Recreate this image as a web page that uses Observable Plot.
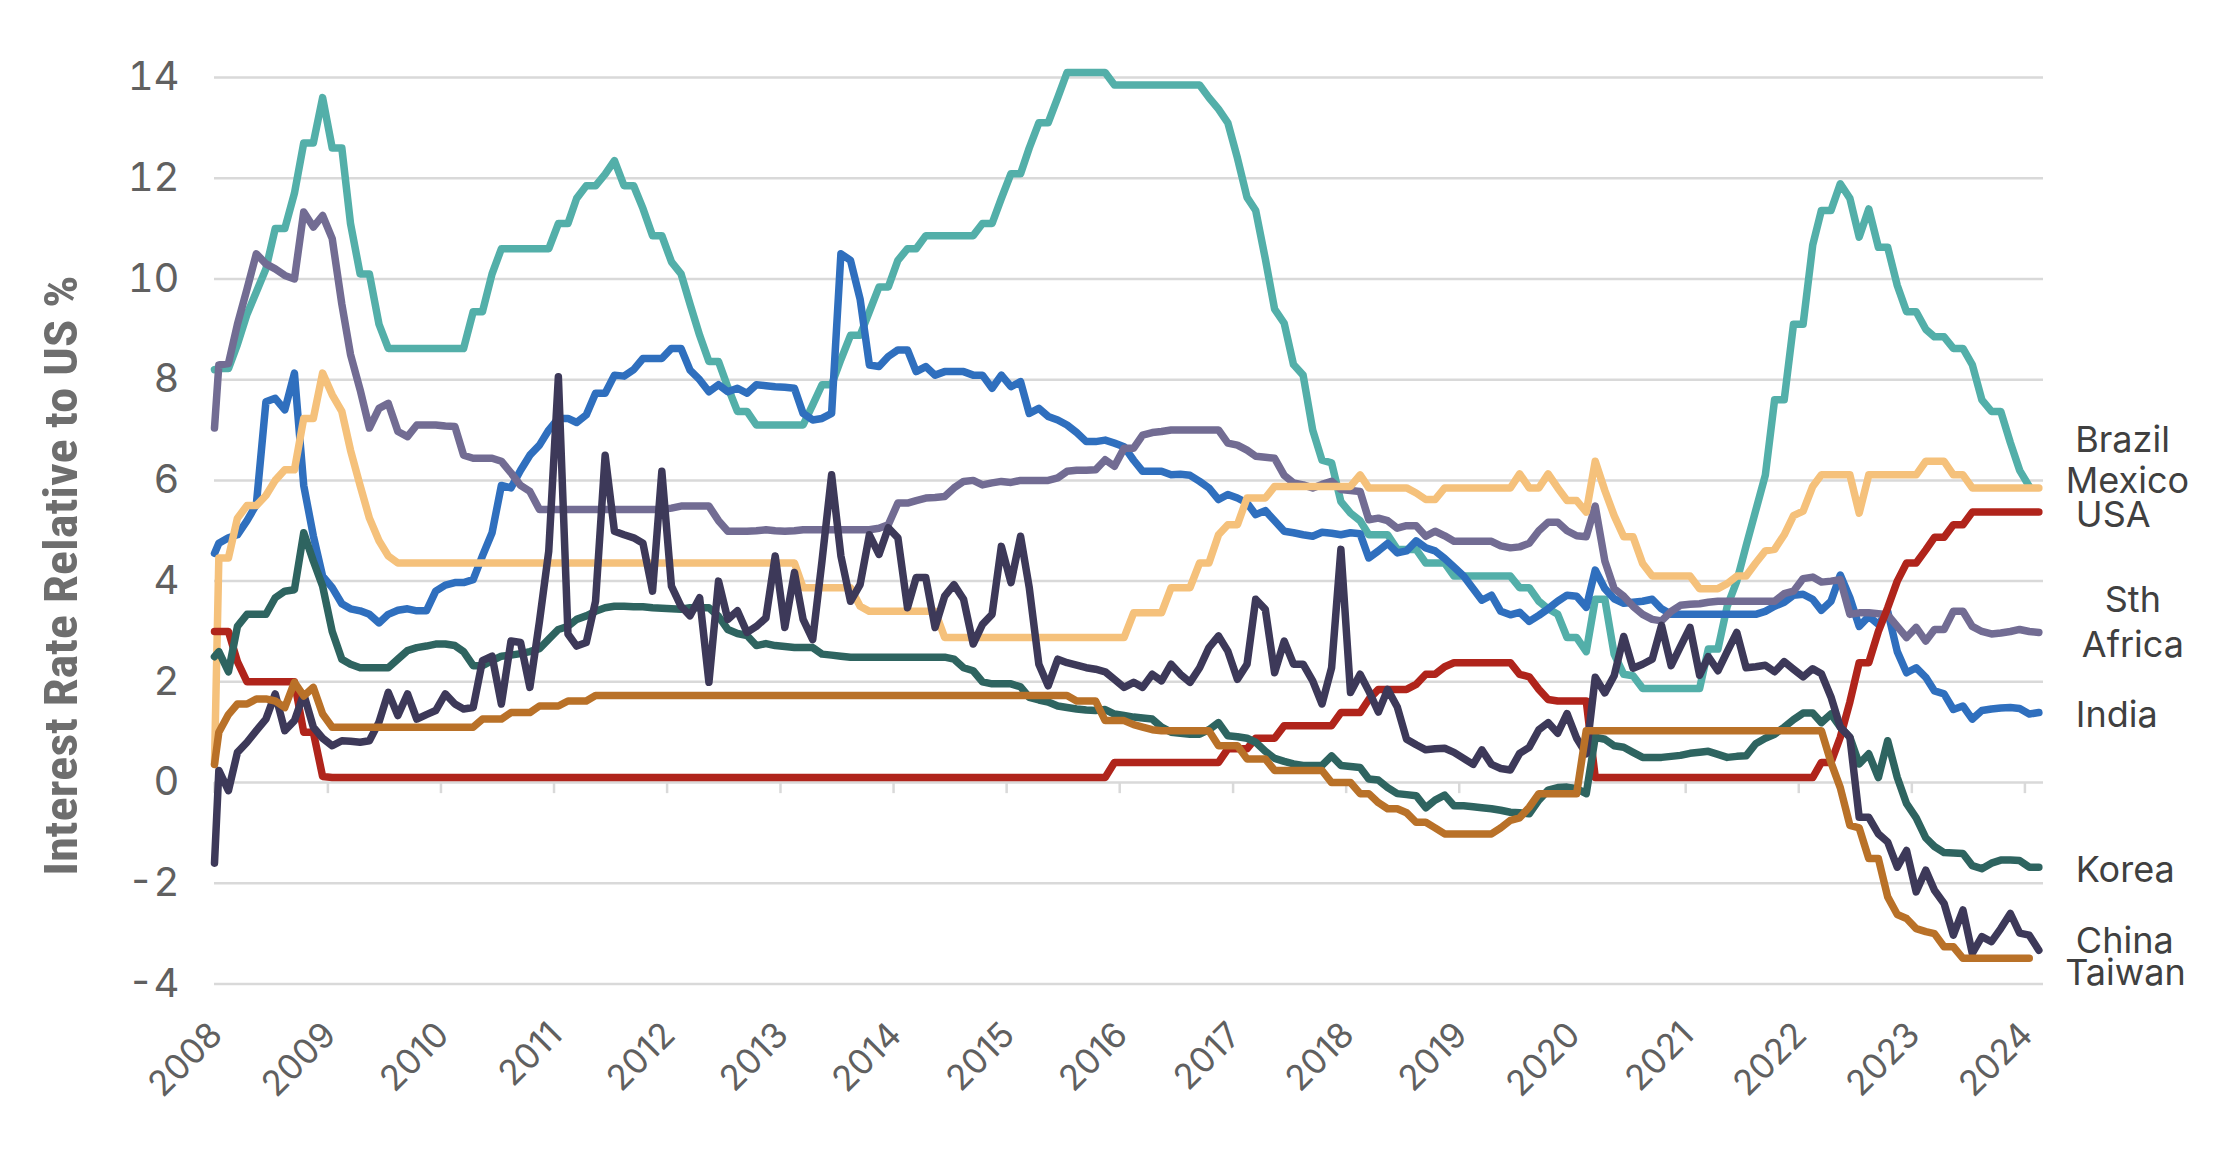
<!DOCTYPE html>
<html>
<head>
<meta charset="utf-8">
<script src="https://cdn.jsdelivr.net/npm/d3@7"></script>
<script src="https://cdn.jsdelivr.net/npm/@observablehq/plot@0.6"></script>
<style>
  html, body { margin: 0; padding: 0; background: #ffffff; }
  #chart { width: 2240px; height: 1152px; }
</style>
</head>
<body>
<div id="chart"></div>
<script>
// ---------------- DATA ----------------
// Series (drawing order) and colours
const seriesNames  = ["Brazil", "India", "Sth Africa", "Mexico", "USA", "Korea", "China", "Taiwan"];
const seriesColors = ["#53AFA9", "#2F6FBE", "#726C93", "#F5C17B", "#B0241B", "#2E6460", "#3D3959", "#B97128"];

// First observation (start of Jan 2008), then monthly mid-month values from Jan 2008
const firstObs = [8.2, 4.55, 7.04, 0.37, 3.0, 2.5, -1.6, 0.36];

const brazil = [
  8.22, 8.22, 8.7, 9.3, 9.74, 10.2, 11.0, 11.0, 11.7, 12.7, 12.7, 13.6,
  12.6, 12.6, 11.1, 10.1, 10.1, 9.1, 8.62, 8.62, 8.62, 8.62, 8.62, 8.62,
  8.62, 8.62, 8.62, 9.35, 9.35, 10.1, 10.6, 10.6, 10.6, 10.6, 10.6, 10.6,
  11.1, 11.1, 11.6, 11.85, 11.85, 12.08, 12.35, 11.85, 11.85, 11.4, 10.86, 10.86,
  10.34, 10.1, 9.5, 8.88, 8.36, 8.36, 7.85, 7.37, 7.37, 7.1, 7.1, 7.1,
  7.1, 7.1, 7.1, 7.5, 7.9, 7.9, 8.4, 8.88, 8.88, 9.35, 9.84, 9.84,
  10.37, 10.6, 10.6, 10.86, 10.86, 10.86, 10.86, 10.86, 10.86, 11.1, 11.1, 11.6,
  12.09, 12.09, 12.6, 13.1, 13.1, 13.6, 14.1, 14.1, 14.1, 14.1, 14.1, 13.85,
  13.85, 13.85, 13.85, 13.85, 13.85, 13.85, 13.85, 13.85, 13.85, 13.6, 13.37, 13.1,
  12.4, 11.62, 11.36, 10.4, 9.4, 9.12, 8.3, 8.09, 7.0, 6.4, 6.35, 5.58,
  5.35, 5.2, 4.92, 4.92, 4.92, 4.63, 4.63, 4.63, 4.36, 4.36, 4.36, 4.1,
  4.1, 4.1, 4.1, 4.1, 4.1, 4.1, 3.87, 3.87, 3.6, 3.45, 3.34, 2.88,
  2.88, 2.6, 3.64, 3.64, 2.55, 2.15, 2.12, 1.87, 1.87, 1.87, 1.87, 1.87,
  1.87, 1.87, 2.65, 2.65, 3.5, 4.0, 4.7, 5.4, 6.1, 7.6, 7.6, 9.1,
  9.1, 10.67, 11.36, 11.36, 11.89, 11.6, 10.83, 11.39, 10.63, 10.63, 9.87, 9.35,
  9.35, 9.0, 8.85, 8.85, 8.62, 8.62, 8.3, 7.6, 7.37, 7.37, 6.75, 6.2,
  5.88
];

const india = [
  4.75, 4.86, 4.92, 5.2, 5.52, 7.56, 7.63, 7.4, 8.13, 5.9, 4.9, 4.1,
  3.87, 3.55, 3.45, 3.41, 3.34, 3.17, 3.34, 3.42, 3.45, 3.41, 3.41, 3.8,
  3.92, 3.97, 3.97, 4.03, 4.5, 4.96, 5.9, 5.85, 6.2, 6.5, 6.7, 7.0,
  7.23, 7.23, 7.15, 7.3, 7.73, 7.73, 8.09, 8.07, 8.2, 8.42, 8.42, 8.42,
  8.62, 8.62, 8.19, 8.0, 7.76, 7.9, 7.76, 7.83, 7.73, 7.9, 7.88, 7.86,
  7.85, 7.83, 7.33, 7.2, 7.23, 7.33, 10.5, 10.37, 9.6, 8.29, 8.26, 8.46,
  8.59, 8.59, 8.16, 8.26, 8.09, 8.16, 8.16, 8.16, 8.09, 8.09, 7.83, 8.09,
  7.86, 7.96, 7.33, 7.43, 7.27, 7.2, 7.1, 6.95, 6.77, 6.77, 6.8, 6.74,
  6.67, 6.4, 6.18, 6.18, 6.18, 6.11, 6.12, 6.1, 5.98, 5.85, 5.62, 5.72,
  5.65, 5.55, 5.32, 5.4, 5.2, 4.99, 4.96, 4.92, 4.89, 4.97, 4.95, 4.92,
  4.96, 4.94, 4.46, 4.6, 4.75, 4.56, 4.6, 4.8, 4.66, 4.6, 4.45, 4.28,
  4.1, 3.85, 3.62, 3.72, 3.4, 3.33, 3.38, 3.2, 3.32, 3.45, 3.6, 3.72,
  3.7, 3.48, 4.22, 3.85, 3.65, 3.56, 3.58, 3.6, 3.64, 3.45, 3.34, 3.34,
  3.34, 3.34, 3.34, 3.34, 3.34, 3.34, 3.34, 3.34, 3.4, 3.5, 3.58, 3.72,
  3.74, 3.64, 3.42, 3.6, 4.12, 3.67, 3.1, 3.3, 3.14, 3.4, 2.6, 2.18,
  2.28, 2.09, 1.82, 1.76, 1.45, 1.52, 1.26, 1.43, 1.46, 1.48, 1.49, 1.47,
  1.36, 1.39
];

const sthAfrica = [
  8.29, 8.32, 9.1, 9.8, 10.5, 10.3, 10.2, 10.07, 10.0, 11.33, 11.03, 11.26,
  10.8, 9.5, 8.5, 7.8, 7.04, 7.43, 7.53, 6.97, 6.87, 7.1, 7.1, 7.1,
  7.08, 7.07, 6.5, 6.44, 6.44, 6.44, 6.38, 6.15, 5.9, 5.78, 5.42, 5.42,
  5.42, 5.42, 5.42, 5.42, 5.42, 5.42, 5.42, 5.42, 5.42, 5.42, 5.42, 5.42,
  5.45, 5.49, 5.49, 5.49, 5.49, 5.2, 4.99, 4.99, 4.99, 5.0, 5.02, 5.0,
  4.99, 5.0, 5.02, 5.02, 5.02, 5.02, 5.02, 5.02, 5.02, 5.02, 5.05, 5.12,
  5.55, 5.55, 5.6, 5.65, 5.66, 5.68, 5.85, 5.98, 6.0, 5.91, 5.95, 5.98,
  5.96, 6.0, 6.0, 6.0, 6.0, 6.05, 6.18, 6.2, 6.2, 6.21, 6.41, 6.28,
  6.64, 6.64, 6.9, 6.95, 6.97, 7.0, 7.0, 7.0, 7.0, 7.0, 7.0, 6.74,
  6.7, 6.6, 6.48, 6.46, 6.44, 6.1, 5.95, 5.91, 5.85, 5.92, 5.98, 5.82,
  5.8, 5.78, 5.22, 5.25, 5.2, 5.05, 5.1, 5.1, 4.89, 4.99, 4.9, 4.79,
  4.79, 4.79, 4.79, 4.79, 4.7, 4.66, 4.68, 4.75, 5.0, 5.17, 5.17, 5.0,
  4.9, 4.88, 5.49, 4.4, 3.85, 3.7, 3.5, 3.34, 3.24, 3.21, 3.4, 3.52,
  3.54, 3.55, 3.58, 3.6, 3.6, 3.6, 3.6, 3.6, 3.6, 3.6, 3.75, 3.8,
  4.05, 4.08, 3.98, 4.0, 4.03, 3.34, 3.37, 3.37, 3.35, 3.33, 3.1, 2.88,
  3.08, 2.81, 3.04, 3.04, 3.4, 3.4, 3.1, 3.0, 2.95, 2.97, 3.0, 3.04,
  3.0, 2.98
];

const mexico = [
  4.46, 4.46, 5.25, 5.5, 5.5, 5.7, 6.0, 6.21, 6.21, 7.23, 7.23, 8.13,
  7.7, 7.37, 6.6, 5.9, 5.25, 4.8, 4.5, 4.36, 4.36, 4.36, 4.36, 4.36,
  4.36, 4.36, 4.36, 4.36, 4.36, 4.36, 4.36, 4.36, 4.36, 4.36, 4.36, 4.36,
  4.36, 4.36, 4.36, 4.36, 4.36, 4.36, 4.36, 4.36, 4.36, 4.36, 4.36, 4.36,
  4.36, 4.36, 4.36, 4.36, 4.36, 4.36, 4.36, 4.36, 4.36, 4.36, 4.36, 4.36,
  4.36, 4.36, 3.87, 3.87, 3.87, 3.87, 3.87, 3.87, 3.5, 3.4, 3.4, 3.4,
  3.4, 3.4, 3.4, 3.4, 3.4, 2.88, 2.88, 2.88, 2.88, 2.88, 2.88, 2.88,
  2.88, 2.88, 2.88, 2.88, 2.88, 2.88, 2.88, 2.88, 2.88, 2.88, 2.88, 2.88,
  2.88, 3.37, 3.37, 3.37, 3.37, 3.87, 3.87, 3.87, 4.36, 4.36, 4.92, 5.12,
  5.12, 5.65, 5.65, 5.65, 5.88, 5.88, 5.88, 5.88, 5.88, 5.88, 5.88, 5.88,
  5.88, 6.11, 5.85, 5.85, 5.85, 5.85, 5.85, 5.75, 5.62, 5.62, 5.85, 5.85,
  5.85, 5.85, 5.85, 5.85, 5.85, 5.85, 6.13, 5.85, 5.85, 6.13, 5.85, 5.6,
  5.6, 5.37, 6.38, 5.8, 5.3, 4.88, 4.88, 4.35, 4.1, 4.1, 4.1, 4.1,
  4.1, 3.85, 3.85, 3.85, 3.95, 4.1, 4.1, 4.36, 4.6, 4.63, 4.92, 5.3,
  5.39, 5.88, 6.11, 6.11, 6.11, 6.11, 5.35, 6.11, 6.11, 6.11, 6.11, 6.11,
  6.11, 6.38, 6.38, 6.38, 6.11, 6.11, 5.85, 5.85, 5.85, 5.85, 5.85, 5.85,
  5.85, 5.85
];

const usa = [
  3.0, 3.0, 2.4, 2.0, 2.0, 2.0, 2.0, 2.0, 2.0, 1.0, 1.0, 0.12,
  0.1, 0.1, 0.1, 0.1, 0.1, 0.1, 0.1, 0.1, 0.1, 0.1, 0.1, 0.1,
  0.1, 0.1, 0.1, 0.1, 0.1, 0.1, 0.1, 0.1, 0.1, 0.1, 0.1, 0.1,
  0.1, 0.1, 0.1, 0.1, 0.1, 0.1, 0.1, 0.1, 0.1, 0.1, 0.1, 0.1,
  0.1, 0.1, 0.1, 0.1, 0.1, 0.1, 0.1, 0.1, 0.1, 0.1, 0.1, 0.1,
  0.1, 0.1, 0.1, 0.1, 0.1, 0.1, 0.1, 0.1, 0.1, 0.1, 0.1, 0.1,
  0.1, 0.1, 0.1, 0.1, 0.1, 0.1, 0.1, 0.1, 0.1, 0.1, 0.1, 0.1,
  0.1, 0.1, 0.1, 0.1, 0.1, 0.1, 0.1, 0.1, 0.1, 0.1, 0.1, 0.4,
  0.4, 0.4, 0.4, 0.4, 0.4, 0.4, 0.4, 0.4, 0.4, 0.4, 0.4, 0.67,
  0.67, 0.67, 0.88, 0.88, 0.88, 1.13, 1.13, 1.13, 1.13, 1.13, 1.13, 1.39,
  1.39, 1.39, 1.65, 1.85, 1.85, 1.85, 1.85, 1.95, 2.15, 2.15, 2.3, 2.38,
  2.38, 2.38, 2.38, 2.38, 2.38, 2.38, 2.15, 2.1, 1.85, 1.65, 1.62, 1.62,
  1.62, 1.62, 0.1, 0.1, 0.1, 0.1, 0.1, 0.1, 0.1, 0.1, 0.1, 0.1,
  0.1, 0.1, 0.1, 0.1, 0.1, 0.1, 0.1, 0.1, 0.1, 0.1, 0.1, 0.1,
  0.1, 0.1, 0.4, 0.4, 0.9, 1.6, 2.38, 2.38, 3.0, 3.47, 4.0, 4.36,
  4.36, 4.62, 4.87, 4.87, 5.12, 5.12, 5.37, 5.37, 5.37, 5.37, 5.37, 5.37,
  5.37, 5.37
];

const korea = [
  2.6, 2.2, 3.1, 3.34, 3.34, 3.34, 3.67, 3.8, 3.83, 4.96, 4.4, 3.9,
  3.0, 2.45, 2.35, 2.28, 2.28, 2.28, 2.28, 2.45, 2.62, 2.68, 2.71, 2.75,
  2.75, 2.72, 2.6, 2.32, 2.32, 2.42, 2.51, 2.53, 2.56, 2.6, 2.66, 2.85,
  3.04, 3.1, 3.24, 3.31, 3.4, 3.47, 3.5, 3.5, 3.49, 3.49, 3.47, 3.46,
  3.45, 3.44, 3.47, 3.47, 3.47, 3.3, 3.04, 2.96, 2.92, 2.72, 2.76, 2.72,
  2.7, 2.68, 2.68, 2.68, 2.55, 2.53, 2.51, 2.49, 2.49, 2.49, 2.49, 2.49,
  2.49, 2.49, 2.49, 2.49, 2.49, 2.49, 2.45, 2.28, 2.22, 2.0, 1.96, 1.96,
  1.96, 1.9, 1.69, 1.64, 1.6, 1.52, 1.49, 1.46, 1.44, 1.43, 1.45, 1.36,
  1.33, 1.3, 1.28, 1.26, 1.1, 1.0, 0.98, 0.96, 0.96, 1.05, 1.19, 0.93,
  0.91, 0.88, 0.8, 0.62, 0.48, 0.42, 0.37, 0.34, 0.34, 0.34, 0.53, 0.34,
  0.32, 0.3, 0.07, 0.05, -0.1, -0.22, -0.24, -0.26, -0.5, -0.35, -0.25, -0.46,
  -0.46, -0.48, -0.5, -0.52, -0.55, -0.59, -0.6, -0.62, -0.35, -0.15, -0.1, -0.09,
  -0.12, -0.22, 0.9, 0.86, 0.73, 0.7, 0.6, 0.5, 0.5, 0.5, 0.52, 0.54,
  0.58, 0.6, 0.62, 0.56, 0.5, 0.52, 0.53, 0.77, 0.88, 0.96, 1.1, 1.25,
  1.38, 1.38, 1.19, 1.36, 1.1, 0.9, 0.37, 0.57, 0.1, 0.83, 0.1, -0.42,
  -0.7, -1.1, -1.27, -1.39, -1.4, -1.41, -1.65, -1.71, -1.6, -1.54, -1.54, -1.55,
  -1.68, -1.68
];

const china = [
  0.24, -0.16, 0.6, 0.8, 1.03, 1.26, 1.76, 1.03, 1.23, 1.76, 1.1, 0.88,
  0.73, 0.83, 0.82, 0.8, 0.83, 1.2, 1.79, 1.33, 1.76, 1.26, 1.35, 1.43,
  1.76, 1.56, 1.46, 1.49, 2.42, 2.51, 1.56, 2.81, 2.78, 1.89, 3.2, 4.6,
  8.06, 2.95, 2.71, 2.78, 3.6, 6.5, 4.99, 4.92, 4.86, 4.75, 3.8, 6.18,
  3.9, 3.5, 3.31, 3.67, 1.99, 4.0, 3.24, 3.41, 2.98, 3.1, 3.27, 4.5,
  3.08, 4.17, 3.24, 2.84, 4.4, 6.11, 4.5, 3.6, 3.93, 4.92, 4.53, 5.06,
  4.86, 3.47, 4.07, 4.07, 3.08, 3.7, 3.93, 3.64, 2.75, 3.14, 3.34, 4.69,
  3.97, 4.89, 3.87, 2.35, 1.92, 2.45, 2.38, 2.33, 2.28, 2.25, 2.2, 2.05,
  1.89, 1.99, 1.89, 2.15, 2.02, 2.35, 2.15, 1.99, 2.28, 2.68, 2.91, 2.61,
  2.05, 2.35, 3.64, 3.44, 2.18, 2.81, 2.35, 2.35, 2.02, 1.56, 2.28, 4.63,
  1.79, 2.15, 1.82, 1.4, 1.85, 1.5, 0.86, 0.75, 0.65, 0.67, 0.68, 0.6,
  0.48, 0.36, 0.65, 0.36, 0.28, 0.25, 0.58, 0.7, 1.05, 1.19, 0.98, 1.37,
  0.88, 0.57, 2.09, 1.78, 2.12, 2.9, 2.27, 2.35, 2.45, 3.12, 2.32, 2.7,
  3.08, 2.13, 2.5, 2.22, 2.6, 2.98, 2.28, 2.3, 2.33, 2.2, 2.4, 2.25,
  2.1, 2.26, 2.16, 1.7, 1.1, 0.9, -0.69, -0.69, -1.02, -1.18, -1.68, -1.35,
  -2.17, -1.74, -2.14, -2.4, -3.03, -2.53, -3.39, -3.06, -3.16, -2.9, -2.6, -2.99,
  -3.03, -3.33
];

const taiwan = [
  1.0, 1.35, 1.56, 1.56, 1.66, 1.66, 1.62, 1.49, 1.99, 1.72, 1.89, 1.36,
  1.1, 1.1, 1.1, 1.1, 1.1, 1.1, 1.1, 1.1, 1.1, 1.1, 1.1, 1.1,
  1.1, 1.1, 1.1, 1.1, 1.26, 1.26, 1.26, 1.39, 1.39, 1.39, 1.52, 1.52,
  1.52, 1.62, 1.62, 1.62, 1.73, 1.73, 1.73, 1.73, 1.73, 1.73, 1.73, 1.73,
  1.73, 1.73, 1.73, 1.73, 1.73, 1.73, 1.73, 1.73, 1.73, 1.73, 1.73, 1.73,
  1.73, 1.73, 1.73, 1.73, 1.73, 1.73, 1.73, 1.73, 1.73, 1.73, 1.73, 1.73,
  1.73, 1.73, 1.73, 1.73, 1.73, 1.73, 1.73, 1.73, 1.73, 1.73, 1.73, 1.73,
  1.73, 1.73, 1.73, 1.73, 1.73, 1.73, 1.73, 1.62, 1.62, 1.62, 1.23, 1.23,
  1.23, 1.15, 1.1, 1.05, 1.03, 1.03, 1.03, 1.03, 1.03, 1.03, 0.73, 0.73,
  0.73, 0.47, 0.47, 0.47, 0.24, 0.24, 0.24, 0.24, 0.24, 0.24, 0.0, 0.0,
  0.0, -0.22, -0.22, -0.4, -0.52, -0.52, -0.6, -0.79, -0.79, -0.9, -1.02, -1.02,
  -1.02, -1.02, -1.02, -1.02, -0.9, -0.75, -0.7, -0.49, -0.22, -0.22, -0.22, -0.22,
  -0.22, 1.03, 1.03, 1.03, 1.03, 1.03, 1.03, 1.03, 1.03, 1.03, 1.03, 1.03,
  1.03, 1.03, 1.03, 1.03, 1.03, 1.03, 1.03, 1.03, 1.03, 1.03, 1.03, 1.03,
  1.03, 1.03, 1.03, 0.4, -0.1, -0.85, -0.9, -1.51, -1.51, -2.27, -2.62, -2.7,
  -2.9, -2.96, -3.0, -3.26, -3.26, -3.49, -3.49, -3.49, -3.49, -3.49, -3.49, -3.49,
  -3.49
];

const monthlySeries = [brazil, india, sthAfrica, mexico, usa, korea, china, taiwan];

// Axis ticks and texts
const yTicks = [-4, -2, 0, 2, 4, 6, 8, 10, 12, 14];
const yearTicks = [2008, 2009, 2010, 2011, 2012, 2013, 2014, 2015, 2016, 2017, 2018, 2019, 2020, 2021, 2022, 2023, 2024];
const yTitle = "Interest Rate Relative to US %";

// End-of-line label texts (with their placement styling)
const endLabels = [
  {series: "Brazil",     text: "Brazil",      dx: 46, dy: -49, anchor: "start"},
  {series: "Mexico",     text: "Mexico",      dx: 27, dy: -9,  anchor: "start"},
  {series: "USA",        text: "USA",         dx: 37, dy: 0,   anchor: "start"},
  {series: "Sth Africa", text: "Sth\nAfrica", dx: 94, dy: -12, anchor: "middle"},
  {series: "India",      text: "India",       dx: 37, dy: 0,   anchor: "start"},
  {series: "Korea",      text: "Korea",       dx: 37, dy: 0,   anchor: "start"},
  {series: "China",      text: "China",       dx: 37, dy: -12, anchor: "start"},
  {series: "Taiwan",     text: "Taiwan",      dx: 36, dy: 12,  anchor: "start"}
];

// ---------------- TABLE ----------------
const rows = seriesNames.flatMap((name, i) => [
  {series: name, date: new Date(Date.UTC(2008, 0, 1)), value: firstObs[i]},
  ...monthlySeries[i].map((v, k) => ({series: name, date: new Date(Date.UTC(2008, k, 15)), value: v}))
]);
const lastPoint = name => rows.filter(r => r.series === name).at(-1);
const yearDates = yearTicks.map(y => new Date(Date.UTC(y, 0, 1)));

// ---------------- CHART ----------------
const gridColor = "#D9D9D9";
const tickText = "#606060";

const chart = Plot.plot({
  width: 2240,
  height: 1152,
  marginLeft: 214,
  marginRight: 197,
  marginTop: 77,
  marginBottom: 168.5,
  style: {fontFamily: "Inter, 'Noto Sans', sans-serif", background: "#ffffff", color: tickText},
  x: {type: "utc", domain: [new Date(Date.UTC(2008, 0, 1)), new Date(Date.UTC(2024, 2, 1))], axis: null},
  y: {domain: [-4, 14]},
  color: {domain: seriesNames, range: seriesColors},
  marks: [
    Plot.ruleY(yTicks, {stroke: gridColor, strokeWidth: 2.5}),
    Plot.ruleX(yearDates, {x: d => d, y1: 0, y2: -0.22, stroke: gridColor, strokeWidth: 2.5}),
    Plot.axisY({ticks: yTicks, tickSize: 0, tickPadding: 35, tickFormat: d => String(d), fontSize: 40, label: null}),
    Plot.text(yearDates, {
      x: d => d, text: d => String(d.getUTCFullYear()), frameAnchor: "bottom",
      rotate: -45, textAnchor: "end", lineAnchor: "middle", dx: 2, dy: 45,
      fontSize: 35, fill: tickText
    }),
    Plot.text([yTitle], {
      text: d => d, frameAnchor: "left", rotate: -90, dx: -153, dy: 45,
      textAnchor: "middle", lineAnchor: "middle",
      fontSize: 47, fontWeight: "bold", fill: "#6E6E6E",
      fontFamily: "'Liberation Sans Narrow', 'Arial Narrow', 'Roboto Condensed', 'DejaVu Sans Condensed', Roboto, sans-serif"
    }),
    Plot.line(rows, {
      x: "date", y: "value", z: "series", stroke: "series",
      strokeWidth: 7.5, strokeLinejoin: "round", strokeLinecap: "round"
    }),
    ...endLabels.map(l => {
      const p = lastPoint(l.series);
      return Plot.text([{...p, label: l.text}], {
        x: "date", y: "value", text: "label", dx: l.dx, dy: l.dy,
        textAnchor: l.anchor, lineAnchor: "middle", lineHeight: 1.25,
        fontSize: 36, fill: "#404040"
      });
    })
  ]
});

// squeeze the axis title into its condensed length
chart.querySelectorAll("text").forEach(t => {
  if (t.textContent === yTitle) {
    t.setAttribute("textLength", 600);
    t.setAttribute("lengthAdjust", "spacingAndGlyphs");
  }
});

document.getElementById("chart").appendChild(chart);
</script>
</body>
</html>
